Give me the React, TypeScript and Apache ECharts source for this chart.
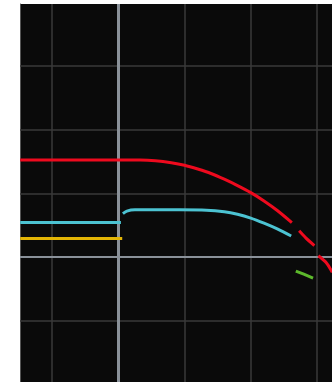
import React, { useEffect, useRef } from "react";
import * as echarts from "echarts";

// x and y in grid divisions
const redSeries: (number[] | null)[] = [
  [0.52, 1.52], [1.12, 1.52], [1.72, 1.52], [2.33, 1.52], [2.56, 1.51], [2.8, 1.48],
  [3.0, 1.44], [3.2, 1.38], [3.4, 1.31], [3.6, 1.22], [3.8, 1.12], [4.0, 1.01],
  [4.2, 0.88], [4.4, 0.73], [4.62, 0.54], null,
  [4.73, 0.41], [4.83, 0.3], [4.96, 0.18], null,
  [5.02, 0.02], [5.14, -0.09], [5.23, -0.24],
];
const cyanSeries: (number[] | null)[] = [
  [0.52, 0.54], [2.04, 0.54], null,
  [2.07, 0.68], [2.13, 0.72], [2.25, 0.74], [2.93, 0.74], [3.33, 0.735],
  [3.6, 0.71], [3.8, 0.67], [4.0, 0.61], [4.2, 0.53], [4.4, 0.44], [4.61, 0.33],
];
const yellowSeries: number[][] = [
  [0.52, 0.29], [1.3, 0.29], [2.06, 0.29],
];
const greenSeries: number[][] = [
  [4.68, -0.22], [4.8, -0.27], [4.94, -0.33],
];
const xGridLines = [1, 3, 4, 5];
const yGridLines = [-1, 1, 2, 3];
const xMarker = 2;
const yZero = 0;

const X_MIN = 0.517;
const X_MAX = 5.226;
const Y_MIN = -1.961;
const Y_MAX = 3.969;

export default function App() {
  const ref = useRef<HTMLDivElement>(null);
  useEffect(() => {
    if (!ref.current) return;
    const chart = echarts.init(ref.current, null, { renderer: "svg" });
    const gridStyle = { color: "#3a3a3a", width: 1.5, type: "solid" as const };
    const brightStyle = { color: "#8a9199", width: 2, type: "solid" as const };
    const lineSeries = (data: any[], color: string, smooth: number) => ({
      type: "line",
      data,
      symbol: "none",
      smooth,
      connectNulls: false,
      lineStyle: { color, width: 3 },
      z: 5,
      silent: true,
    });
    chart.setOption({
      animation: false,
      backgroundColor: "#ffffff",
      grid: {
        left: 20,
        top: 4,
        right: 0,
        bottom: 0,
        show: true,
        backgroundColor: "#0a0a0a",
        borderWidth: 0,
      },
      xAxis: {
        type: "value",
        min: X_MIN,
        max: X_MAX,
        axisLine: { show: false },
        axisTick: { show: false },
        axisLabel: { show: false },
        splitLine: { show: false },
      },
      yAxis: {
        type: "value",
        min: Y_MIN,
        max: Y_MAX,
        axisLine: { show: true, lineStyle: { color: "#555555", width: 1 } },
        axisTick: { show: false },
        axisLabel: { show: false },
        splitLine: { show: false },
      },
      series: [
        {
          type: "line",
          data: [],
          z: 1,
          silent: true,
          markLine: {
            silent: true,
            symbol: "none",
            label: { show: false },
            animation: false,
            data: [
              ...xGridLines.map((v) => ({ xAxis: v, lineStyle: gridStyle })),
              ...yGridLines.map((v) => ({ yAxis: v, lineStyle: gridStyle })),
              { xAxis: xMarker, lineStyle: { ...brightStyle, width: 3 } },
              { yAxis: yZero, lineStyle: brightStyle },
            ],
          },
        },
        lineSeries(redSeries, "#ee0a1e", 0.3),
        lineSeries(cyanSeries, "#4cc3d2", 0.3),
        lineSeries(yellowSeries, "#e3b505", 0),
        lineSeries(greenSeries, "#5cb82c", 0),
      ],
    });
    return () => chart.dispose();
  }, []);
  return (
    <div
      ref={ref}
      style={{ position: "fixed", left: 0, top: 0, width: 332, height: 382 }}
    />
  );
}
